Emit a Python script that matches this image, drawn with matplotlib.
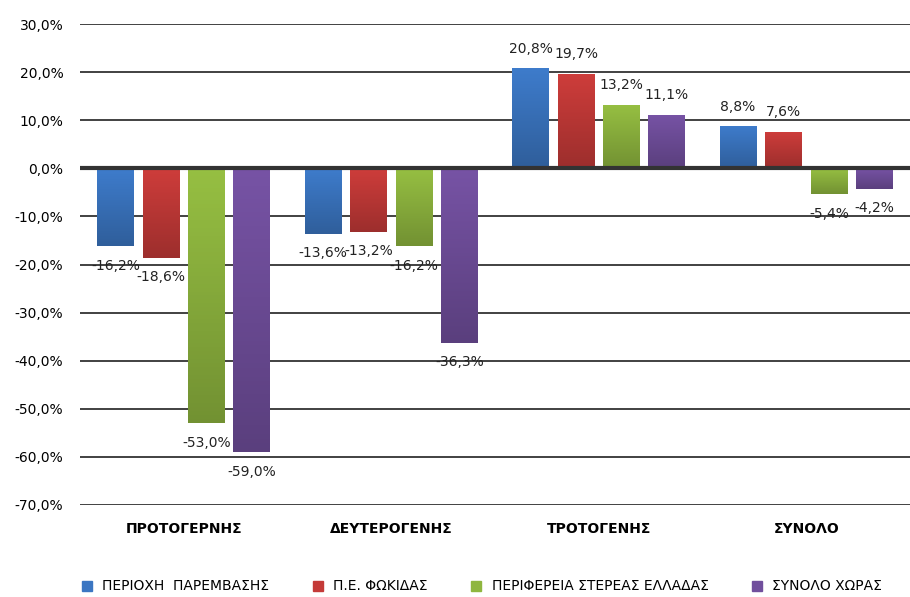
import numpy as np
import matplotlib
matplotlib.use('Agg')
import matplotlib.pyplot as plt
from matplotlib.lines import Line2D
from matplotlib.colors import LinearSegmentedColormap, to_rgb

categories = ['ΠΡΟΤΟΓΕΡΝΗΣ', 'ΔΕΥΤΕΡΟΓΕΝΗΣ', 'ΤΡΟΤΟΓΕΝΗΣ', 'ΣΥΝΟΛΟ']
series_names = ['ΠΕΡΙΟΧΗ  ΠΑΡΕΜΒΑΣΗΣ', 'Π.Ε. ΦΩΚΙΔΑΣ',
                'ΠΕΡΙΦΕΡΕΙΑ ΣΤΕΡΕΑΣ ΕΛΛΑΔΑΣ', 'ΣΥΝΟΛΟ ΧΩΡΑΣ']
perioxi = [-16.2, -13.6, 20.8, 8.8]
fokida = [-18.6, -13.2, 19.7, 7.6]
sterea = [-53.0, -16.2, 13.2, -5.4]
xora = [-59.0, -36.3, 11.1, -4.2]
yticks = [30, 20, 10, 0, -10, -20, -30, -40, -50, -60, -70]

colors = ['#3b76c2', '#c43a38', '#8fb63f', '#714f9d']
all_series = [perioxi, fokida, sterea, xora]


def shade(c, f):
    r, g, b = to_rgb(c)
    return (r * f, g * f, b * f)


fig = plt.figure(figsize=(9.1, 5.97), dpi=100)
ax = fig.add_axes([80 / 910, 1 - 505 / 597, 830 / 910, 481 / 597])

x = np.arange(len(categories))
step = 0.219
width = 0.178
grad = np.linspace(0, 1, 64).reshape(-1, 1)
for i, (vals, col) in enumerate(zip(all_series, colors)):
    pos = x + (i - 1.5) * step
    bars = ax.bar(pos, vals, width=width, color=col, zorder=3)
    cmap = LinearSegmentedColormap.from_list('g', [shade(col, 1.05), shade(col, 0.8)])
    for b, v in zip(bars, vals):
        x0 = b.get_x()
        top, bot = (v, 0) if v > 0 else (0, v)
        # light at top, darker toward the bottom
        im = ax.imshow(grad, cmap=cmap, aspect='auto', zorder=3.5,
                       extent=[x0, x0 + width, bot, top], origin='upper')
        im.set_clip_path(b)
    for p, v in zip(pos, vals):
        lab = ('%.1f%%' % v).replace('.', ',')
        off = 14 if v > 0 else -14
        ax.annotate(lab, (p, v), xytext=(0, off), textcoords='offset points',
                    ha='center', va='center', fontsize=10, color='#222222', zorder=4)

ax.set_xlim(-0.5, 3.5)
ax.set_ylim(-70, 30)
ax.set_yticks(yticks)
ax.set_yticklabels([('%.1f%%' % t).replace('.', ',') for t in yticks], fontsize=10)
for t in yticks:
    ax.axhline(t, color='#333333', lw=1.3 if t != 0 else 3, zorder=2 if t != 0 else 5)
ax.set_xticks(x)
ax.set_xticklabels(categories, fontsize=10, fontweight='bold')
ax.tick_params(length=0)
ax.tick_params(axis='x', pad=12)
ax.tick_params(axis='y', pad=12)
for s in ax.spines.values():
    s.set_visible(False)

handles = [Line2D([], [], marker='s', ls='', color=c, markersize=7) for c in colors]
fig.legend(handles, series_names, loc='lower center', bbox_to_anchor=(0.525, -0.015),
           ncol=4, frameon=False, fontsize=10, handletextpad=0.1, columnspacing=2.5)

fig.savefig('out.png', dpi=100)
